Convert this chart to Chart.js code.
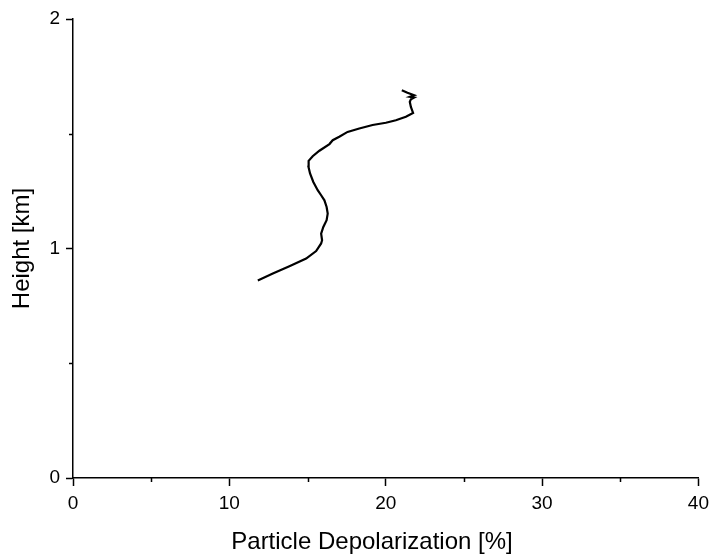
<!DOCTYPE html>
<html>
<head>
<meta charset="utf-8">
<script src="https://cdn.jsdelivr.net/npm/chart.js@4"></script>
<style>
  body { margin: 0; background: #fff; }
  #wrap { width: 715px; height: 559px; }
</style>
</head>
<body>
<div id="wrap"><canvas id="myChart" width="715" height="559"></canvas></div>
<script>
// profile, bottom to top
const depolarization = [11.82, 12.78, 13.84, 14.91, 15.55, 15.87, 15.93, 15.87, 16.01, 16.22,
    16.29, 16.22, 16.08, 15.87, 15.65, 15.37, 15.16, 15.06, 15.07, 15.33,
    15.76, 16.40, 16.61, 17.03, 17.56, 18.31, 19.16, 20.01, 20.65, 21.29,
    21.75, 21.61, 21.54, 21.61, 21.82, 21.54, 21.82, 21.39, 21.03];
const heightKm = [0.861, 0.891, 0.923, 0.956, 0.989, 1.022, 1.036, 1.065, 1.094, 1.123,
    1.152, 1.181, 1.210, 1.232, 1.254, 1.290, 1.327, 1.356, 1.382, 1.402,
    1.426, 1.455, 1.472, 1.487, 1.508, 1.523, 1.538, 1.548, 1.559, 1.574,
    1.591, 1.617, 1.639, 1.650, 1.658, 1.661, 1.668, 1.679, 1.690];

const xMinorTicks = [5, 15, 25, 35];
const yMinorTicks = [0.5, 1.5];

const xTitle = 'Particle Depolarization [%]';
const fontFamily = "Arial, 'Liberation Sans', sans-serif";

// small ticks between the labelled ones, plus the x title
// (the original centres it a bit left of the axis middle)
const extras = {
    id: 'extras',
    afterDraw(chart) {
        const ctx = chart.ctx;
        const xs = chart.scales.x;
        const ys = chart.scales.y;
        ctx.save();
        ctx.strokeStyle = '#000';
        ctx.lineWidth = 1.5;
        ctx.beginPath();
        xMinorTicks.forEach(v => {
            let px = Math.round(xs.getPixelForValue(v)) + 0.5;
            ctx.moveTo(px, xs.top);
            ctx.lineTo(px, xs.top + 4);
        });
        yMinorTicks.forEach(v => {
            let py = Math.round(ys.getPixelForValue(v)) + 0.5;
            ctx.moveTo(ys.right, py);
            ctx.lineTo(ys.right - 4, py);
        });
        ctx.stroke();

        ctx.fillStyle = '#000';
        ctx.font = '24px ' + fontFamily;
        ctx.textAlign = 'center';
        ctx.textBaseline = 'middle';
        ctx.fillText(xTitle, chart.chartArea.left + 299, xs.bottom - 17);
        ctx.restore();
    }
};

let points = depolarization.map((d, i) => ({x: d, y: heightKm[i]}));

let ctx = document.getElementById('myChart').getContext('2d');

new Chart(ctx, {
    type: 'scatter',
    data: {
        datasets: [{
            data: points,
            showLine: true,
            borderColor: '#000',
            borderWidth: 2.2,
            pointRadius: 0,
            tension: 0,
            fill: false
        }]
    },
    options: {
        responsive: false,
        animation: false,
        layout: {
            padding: {top: 19, right: 15, bottom: 0, left: 0}
        },
        plugins: {
            legend: {display: false},
            tooltip: {enabled: false}
        },
        scales: {
            x: {
                type: 'linear',
                min: 0,
                max: 40,
                afterFit: (scale) => { scale.height = 81; },
                border: {color: '#000', width: 1.5},
                grid: {drawOnChartArea: false, drawTicks: true, tickLength: 8, tickColor: '#000', tickWidth: 1.5},
                ticks: {stepSize: 10, color: '#000', padding: 6, maxRotation: 0,
                    font: {family: fontFamily, size: 19}},
                title: {display: false, text: xTitle}
            },
            y: {
                type: 'linear',
                min: 0,
                max: 2,
                afterFit: (scale) => { scale.width = 73; },
                border: {color: '#000', width: 1.5},
                grid: {drawOnChartArea: false, drawTicks: true, tickLength: 7, tickColor: '#000', tickWidth: 1.5},
                ticks: {stepSize: 1, color: '#000', padding: 6,
                    font: {family: fontFamily, size: 19}},
                title: {display: true, text: 'Height [km]', color: '#000',
                    padding: {top: 8, bottom: 0},
                    font: {family: fontFamily, size: 24}}
            }
        }
    },
    plugins: [extras]
});
</script>
</body>
</html>
